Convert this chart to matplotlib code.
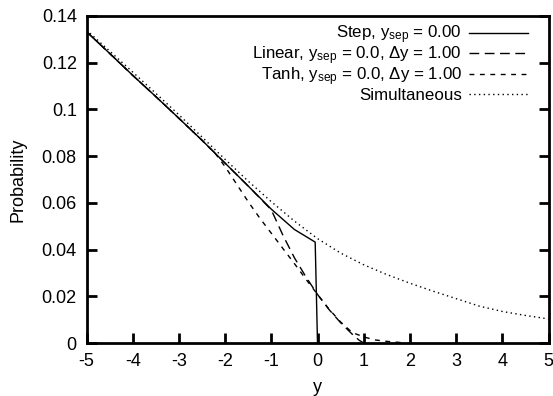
import matplotlib
matplotlib.use("Agg")
import matplotlib.pyplot as plt

plt.rcParams['font.family'] = ['Liberation Sans', 'DejaVu Sans']
plt.rcParams['axes.unicode_minus'] = False
plt.rcParams['mathtext.fontset'] = 'custom'
plt.rcParams['mathtext.rm'] = 'Liberation Sans'
plt.rcParams['mathtext.it'] = 'Liberation Sans'

# Step, y_sep = 0.00
step_x = [-5, -4.5, -4, -3.5, -3, -2.5, -2, -1.5, -1, -0.5, -0.05, 0.0]
step_y = [0.1333, 0.1240, 0.1146, 0.1055, 0.0962, 0.0868, 0.0770, 0.0672, 0.0573, 0.0486, 0.0432, 0.0]

# Linear, y_sep = 0.0, dy = 1.00
lin_x = [-5, -4.5, -4, -3.5, -3, -2.5, -2, -1.5, -1, -0.75, -0.5, -0.25, 0, 0.25, 0.5, 0.75, 0.9, 1.0]
lin_y = [0.1333, 0.1240, 0.1146, 0.1055, 0.0962, 0.0868, 0.0770, 0.0672, 0.0570, 0.0462, 0.0365, 0.0283, 0.0208,
         0.0143, 0.0087, 0.0038, 0.0012, 0.0]

# Tanh, y_sep = 0.0, dy = 1.00
tanh_x = [-5, -4.5, -4, -3.5, -3, -2.5, -2.2, -2, -1.75, -1.5, -1.25, -1, -0.75, -0.5, -0.25, 0, 0.25, 0.5, 0.75,
          1.0, 1.25, 1.5, 1.8]
tanh_y = [0.1333, 0.1240, 0.1146, 0.1055, 0.0962, 0.0868, 0.0808, 0.0755, 0.0680, 0.0605, 0.0535, 0.0470, 0.0405,
          0.0340, 0.0273, 0.0208, 0.0145, 0.0090, 0.0045, 0.0026, 0.0013, 0.0007, 0.0002]

# Simultaneous
sim_x = [-5, -4.5, -4, -3.5, -3, -2.5, -2, -1.5, -1, -0.5, 0, 0.5, 1, 1.5, 2, 2.5, 3, 3.5, 4, 4.5, 5]
sim_y = [0.1340, 0.1250, 0.1160, 0.1069, 0.0977, 0.0882, 0.0786, 0.0693, 0.0605, 0.0522, 0.0447, 0.0385, 0.0335,
         0.0293, 0.0256, 0.0222, 0.0190, 0.0158, 0.0135, 0.0118, 0.0103]

labels = [r'Step, y$_{\mathrm{sep}}$ = 0.00',
          r'Linear, y$_{\mathrm{sep}}$ = 0.0, $\Delta$y = 1.00',
          r'Tanh, y$_{\mathrm{sep}}$ = 0.0, $\Delta$y = 1.00',
          'Simultaneous']

xticks = [-5, -4, -3, -2, -1, 0, 1, 2, 3, 4, 5]
yticks = [0, 0.02, 0.04, 0.06, 0.08, 0.1, 0.12, 0.14]
ytick_labels = ['0', '0.02', '0.04', '0.06', '0.08', '0.1', '0.12', '0.14']

FS = 13
FS_KEY = 12.2
W, H = 553, 396
L, R, T, B = 86.5, 548.5, 16, 343

fig = plt.figure(figsize=(W / 100, H / 100), dpi=100)
ax = fig.add_axes([L / W, 1 - B / H, (R - L) / W, (B - T) / H])

lw = 1.0
styles = ['-', (0, (7, 4)), (0, (3.5, 4)), (0, (1, 2.4))]
series = [(step_x, step_y), (lin_x, lin_y), (tanh_x, tanh_y), (sim_x, sim_y)]
for (xs, ys), st in zip(series, styles):
    ax.plot(xs, ys, color='black', lw=lw, linestyle=st)

ax.set_xlim(-5, 5)
ax.set_ylim(0, 0.14)
ax.set_xticks(xticks)
ax.set_xticklabels([str(t) for t in xticks])
ax.set_yticks(yticks)
ax.set_yticklabels(ytick_labels)

for s in ax.spines.values():
    s.set_linewidth(2.0)

ax.tick_params(axis='both', direction='in', length=7, width=2.0, labelsize=FS, pad=7,
               top=False, right=True)

ax.set_xlabel('y', fontsize=FS, labelpad=7)
ax.set_ylabel('Probability', fontsize=FS, labelpad=11)

# key (gnuplot style: text right-aligned, sample on the right)
def fx(px):
    return (px - L) / (R - L)

def fy(py):
    return (B - py) / (B - T)

row_centers = [32.6, 53.4, 74.2, 94.2]
for lab, st, yc in zip(labels, styles, row_centers):
    ax.text(fx(462), fy(yc + 6.2), lab, transform=ax.transAxes, ha='right', va='baseline', fontsize=FS_KEY)
    ax.plot([fx(469), fx(528)], [fy(yc), fy(yc)], transform=ax.transAxes, color='black', lw=lw,
            linestyle=st, clip_on=False)

fig.savefig('out.png', dpi=100)
